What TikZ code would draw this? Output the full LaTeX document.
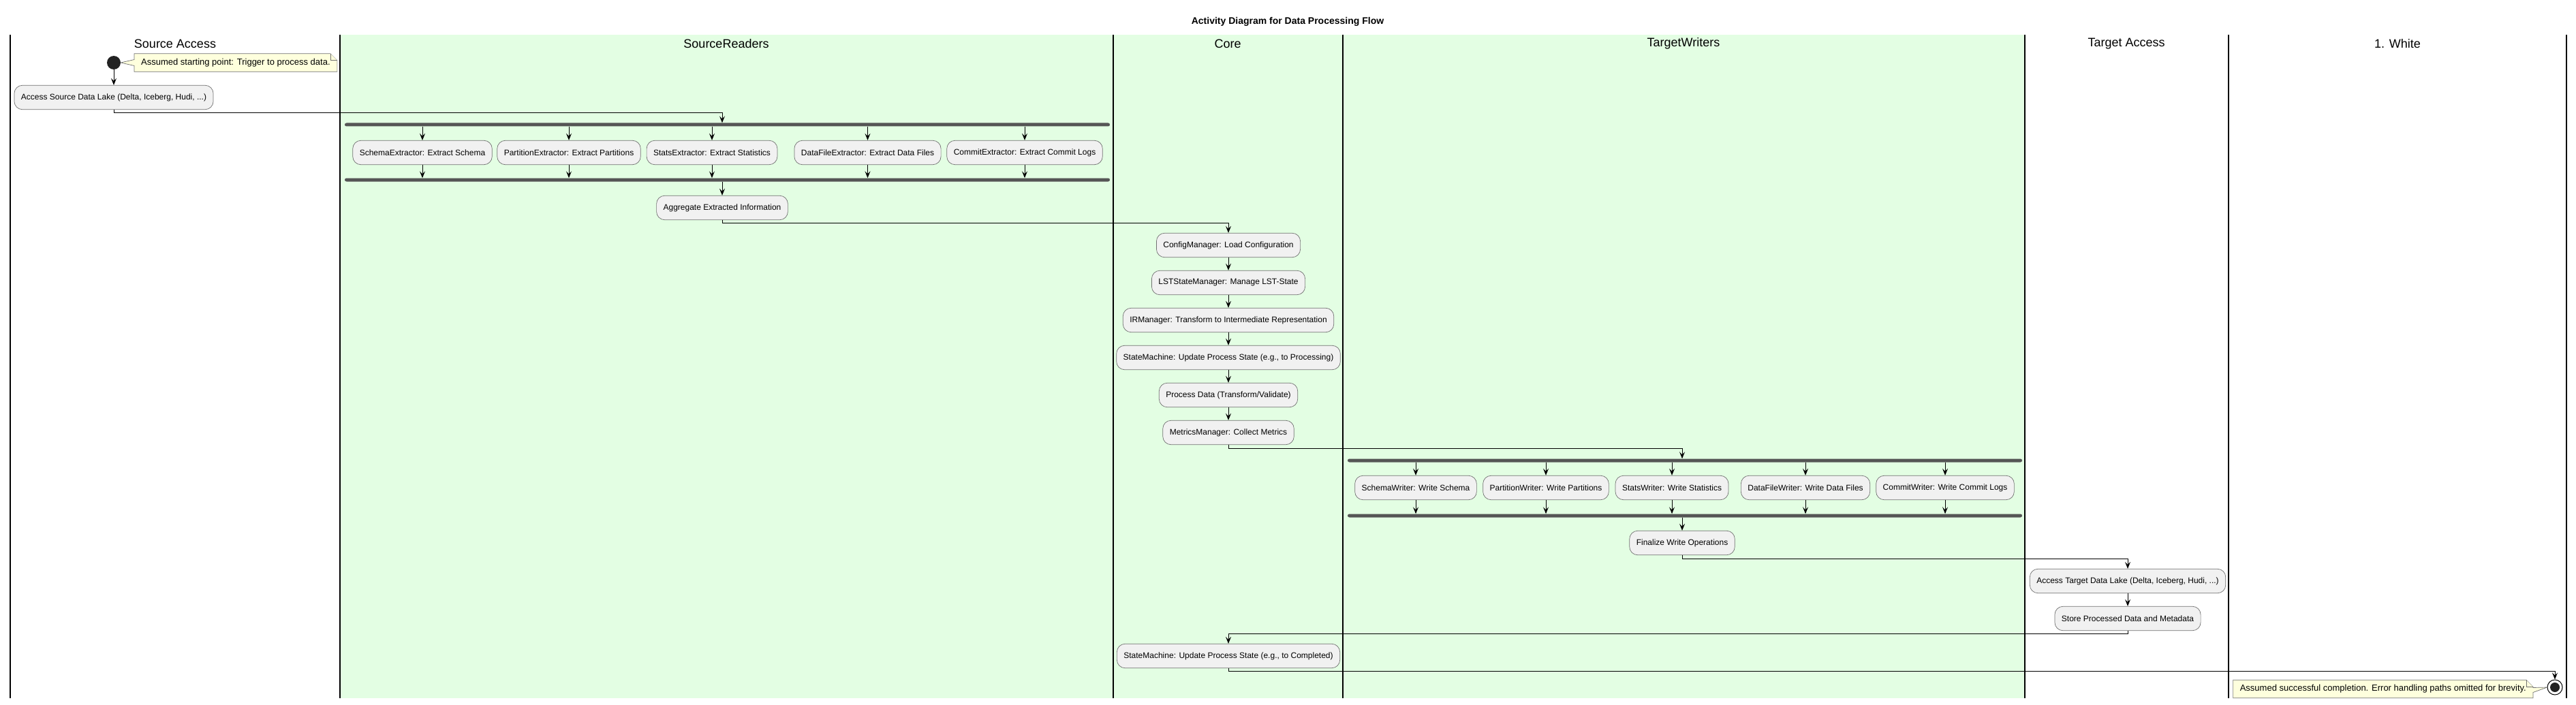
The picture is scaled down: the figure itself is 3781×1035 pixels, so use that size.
\documentclass[tikz,border=0pt]{standalone}
\usepackage{fontspec}
\setmainfont{Liberation Sans}
\usetikzlibrary{arrows.meta,calc,backgrounds}

\definecolor{lanegreen}{HTML}{E3FEE3}
\definecolor{actfill}{HTML}{F1F1F1}
\definecolor{actline}{HTML}{707070}
\definecolor{barfill}{HTML}{555555}
\definecolor{notefill}{HTML}{FEFFDD}
\definecolor{dotfill}{HTML}{222222}

\begin{document}
\begin{tikzpicture}[x=1pt,y=-1pt,
    act/.style={draw=actline, line width=0.7pt, fill=actfill, rounded corners=12pt,
      minimum height=35.5pt, inner xsep=10pt, font=\fontsize{12}{14}\selectfont},
    bar/.style={fill=barfill, rounded corners=2.5pt, minimum height=5pt, inner sep=0pt},
    note/.style={inner xsep=10pt, minimum height=26pt, font=\fontsize{13}{15}\selectfont},
    noteline/.style={draw=actline, line width=0.7pt, fill=notefill},
    lanehead/.style={font=\fontsize{18}{20}\selectfont},
    flow/.style={line width=1pt, -{Stealth[length=10pt,width=8pt,inset=4pt]}}]
  \useasboundingbox (0,0) rectangle (3781,1035);

  % swimlanes
  \begin{scope}[on background layer]
    \fill[lanegreen] (499,51) rectangle (1634,1025); % SourceReaders
    \fill[lanegreen] (1634,51) rectangle (1971,1025); % Core
    \fill[lanegreen] (1971,51) rectangle (2972,1025); % TargetWriters
    \foreach \x in {15,499,1634,1971,2972,3271,3767}
      \draw[line width=1.5pt] (\x,51) -- (\x,1025); % lane borders
  \end{scope}
  \node[font=\bfseries\fontsize{14}{16}\selectfont] (title) at (1890,32) {Activity Diagram for Data Processing Flow};
  \node[lanehead] (hdSrc) at (257,64) {Source Access};
  \node[lanehead] (hdReaders) at (1066,64) {SourceReaders};
  \node[lanehead] (hdCore) at (1802,64) {Core};
  \node[lanehead] (hdWriters) at (2471,64) {TargetWriters};
  \node[lanehead] (hdTgt) at (3121,64) {Target Access};
  \node[lanehead] (hdWhite) at (3519,64) {1. White};

  % Source Access
  \node[circle, fill=dotfill, minimum size=20pt, inner sep=0pt] (start) at (167,92) {}; % start point
  \node[note, anchor=west] (noteStart) at (197,92) {Assumed starting point: Trigger to process data.};
  \node[act] (src) at (167,143) {Access Source Data Lake (Delta, Iceberg, Hudi, ...)};

  % SourceReaders
  \node[bar, minimum width=1123pt] (forkA) at (1067.5,183) {};
  \node[act] (exA) at (620,224) {SchemaExtractor: Extract Schema};
  \node[act] (exB) at (835,224) {PartitionExtractor: Extract Partitions};
  \node[act] (exC) at (1045,224) {StatsExtractor: Extract Statistics};
  \node[act] (exD) at (1273.5,224) {DataFileExtractor: Extract Data Files};
  \node[act] (exE) at (1504,224) {CommitExtractor: Extract Commit Logs};
  \node[bar, minimum width=1123pt] (joinA) at (1067.5,264) {};
  \node[act] (agg) at (1060,305) {Aggregate Extracted Information};

  % Core
  \node[act] (cfg) at (1803,360) {ConfigManager: Load Configuration};
  \node[act] (lst) at (1803,415) {LSTStateManager: Manage LST-State};
  \node[act] (irm) at (1803,470) {IRManager: Transform to Intermediate Representation};
  \node[act] (smRun) at (1803,525) {StateMachine: Update Process State (e.g., to Processing)};
  \node[act] (proc) at (1803,580) {Process Data (Transform/Validate)};
  \node[act] (met) at (1803,635) {MetricsManager: Collect Metrics};
  \node[act] (smDone) at (1803,963) {StateMachine: Update Process State (e.g., to Completed)};

  % TargetWriters
  \node[bar, minimum width=990pt] (forkB) at (2473,676) {};
  \node[act] (wrA) at (2078,716) {SchemaWriter: Write Schema};
  \node[act] (wrB) at (2269,716) {PartitionWriter: Write Partitions};
  \node[act] (wrC) at (2454,716) {StatsWriter: Write Statistics};
  \node[act] (wrD) at (2650,716) {DataFileWriter: Write Data Files};
  \node[act] (wrE) at (2855,716) {CommitWriter: Write Commit Logs};
  \node[bar, minimum width=990pt] (joinB) at (2473,757) {};
  \node[act] (fin) at (2469,797) {Finalize Write Operations};

  % Target Access
  \node[act] (tgt) at (3123,853) {Access Target Data Lake (Delta, Iceberg, Hudi, ...)};
  \node[act] (store) at (3123,908) {Store Processed Data and Metadata};

  % 1. White
  \node[circle, draw, line width=1pt, fill=white, minimum size=22pt, inner sep=0pt] (stop) at (3750,1009) {};
  \fill[dotfill] (stop) circle (7); % end point
  \node[note, anchor=east] (noteStop) at (3718,1011.5) {Assumed successful completion. Error handling paths omitted for brevity.};

  % notes
  \begin{scope}[on background layer]
    \draw[noteline] (noteStart.north west) -- ($(noteStart.north east)+(-10,0)$) -- ($(noteStart.north east)+(0,10)$)
      -- (noteStart.south east) -- (noteStart.south west) -- ($(noteStart.west)+(0,4.5)$) -- (start.east)
      -- ($(noteStart.west)+(0,-4.5)$) -- cycle;
    \draw[noteline] ($(noteStart.north east)+(-10,0)$) -- ($(noteStart.north east)+(-10,10)$) -- ($(noteStart.north east)+(0,10)$); % fold
    \draw[noteline] (noteStop.north west) -- ($(noteStop.north east)+(-10,0)$) -- ($(noteStop.north east)+(0,10)$)
      -- ($(noteStop.east)+(0,-2)$) -- (stop.west) -- ($(noteStop.east)+(0,5)$)
      -- (noteStop.south east) -- (noteStop.south west) -- cycle;
    \draw[noteline] ($(noteStop.north east)+(-10,0)$) -- ($(noteStop.north east)+(-10,10)$) -- ($(noteStop.north east)+(0,10)$); % fold
  \end{scope}

  % flow
  \draw[flow] (start) -- (src);
  \draw[flow] (src.south) -- ++(0,4) -| (agg |- forkA.north);
  \foreach \n in {exA,exB,exC,exD,exE} {
    \draw[flow] (\n |- forkA.south) -- (\n.north);
    \draw[flow] (\n.south) -- (\n |- joinA.north);
  }
  \draw[flow] (agg |- joinA.south) -- (agg.north);
  \draw[flow] (agg.south) -- ++(0,4) -| (cfg.north);
  \draw[flow] (cfg) -- (lst);
  \draw[flow] (lst) -- (irm);
  \draw[flow] (irm) -- (smRun);
  \draw[flow] (smRun) -- (proc);
  \draw[flow] (proc) -- (met);
  \draw[flow] (met.south) -- ++(0,5) -| (fin |- forkB.north);
  \foreach \n in {wrA,wrB,wrC,wrD,wrE} {
    \draw[flow] (\n |- forkB.south) -- (\n.north);
    \draw[flow] (\n.south) -- (\n |- joinB.north);
  }
  \draw[flow] (fin |- joinB.south) -- (fin.north);
  \draw[flow] (fin.south) -- ++(0,5) -| (tgt.north);
  \draw[flow] (tgt) -- (store);
  \draw[flow] (store.south) -- ++(0,4) -| (smDone.north);
  \draw[flow] (smDone.south) -- ++(0,4) -| (stop.north);
\end{tikzpicture}
\end{document}
